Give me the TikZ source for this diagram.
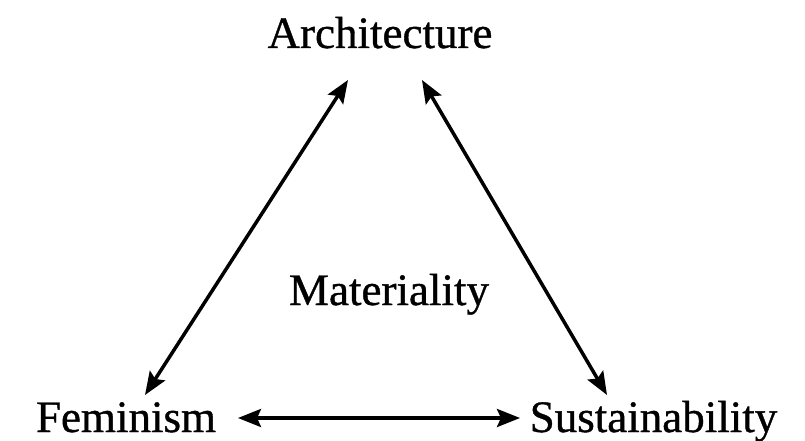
\documentclass[tikz,border=0pt]{standalone}
\usepackage{fontspec}
\setmainfont{Liberation Serif}[FakeBold=0.8]
\usetikzlibrary{arrows.meta}
\begin{document}
\begin{tikzpicture}[x=1pt,y=-1pt,
  lbl/.style={anchor=base,inner sep=0pt,font=\fontsize{45}{50}\selectfont},
  tip/.style={Stealth[length=23pt,width=18pt,inset=4pt]},
  conn/.style={line width=3.5pt,{Stealth[length=23pt,width=18pt,inset=4pt]}-{Stealth[length=23pt,width=18pt,inset=4pt]}}]
\useasboundingbox (0,0) rectangle (805,441);
\node[lbl] (arch) at (380,48) {Architecture};
\node[lbl] (fem) at (126,432) {Feminism};
\node[lbl] (sus) at (653.5,432) {Sustainability};
\node[lbl] (mat) at (389,305) {Materiality};
\coordinate (aL) at (348,80);
\coordinate (aR) at (422,80);
\coordinate (fT) at (145,395);
\coordinate (fR) at (238,418);
\coordinate (sT) at (607,395);
\coordinate (sL) at (520,418);
\draw[conn] (fT) -- (aL);
\draw[conn] (aR) -- (sT);
\draw[conn] (fR) -- (sL);
\end{tikzpicture}
\end{document}
